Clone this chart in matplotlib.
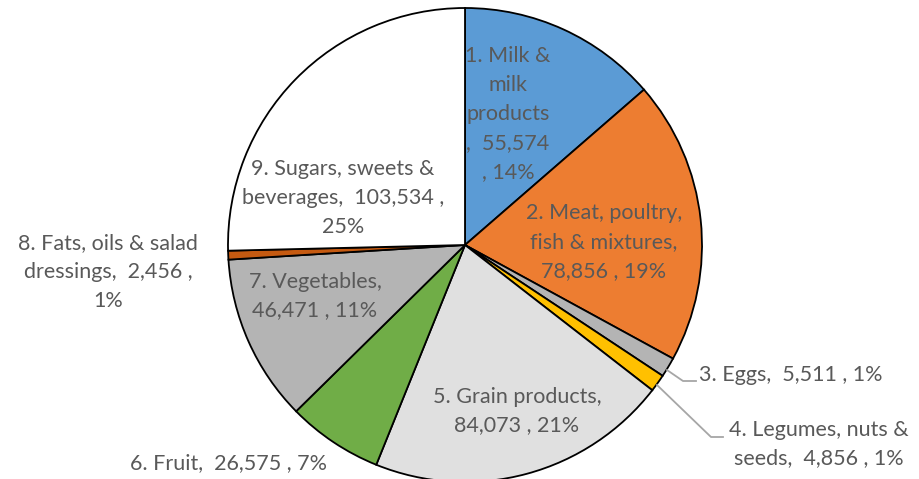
import matplotlib
matplotlib.use("Agg")
import matplotlib.pyplot as plt

categories = ["1. Milk & milk products", "2. Meat, poultry, fish & mixtures", "3. Eggs",
              "4. Legumes, nuts & seeds", "5. Grain products", "6. Fruit", "7. Vegetables",
              "8. Fats, oils & salad dressings", "9. Sugars, sweets & beverages"]
values = [55574, 78856, 5511, 4856, 84073, 26575, 46471, 2456, 103534]
percents = ["14%", "19%", "1%", "1%", "21%", "7%", "11%", "1%", "25%"]
label_texts = [
    "1. Milk &\nmilk\nproducts\n,  55,574\n, 14%",
    "2. Meat, poultry,\nfish & mixtures,\n78,856 , 19%",
    "3. Eggs,  5,511 , 1%",
    "4. Legumes, nuts &\nseeds,  4,856 , 1%",
    "5. Grain products,\n84,073 , 21%",
    "6. Fruit,  26,575 , 7%",
    "7. Vegetables,\n46,471 , 11%",
    "8. Fats, oils & salad\ndressings,  2,456 ,\n1%",
    "9. Sugars, sweets &\nbeverages,  103,534 ,\n25%",
]
colors = ["#5B9BD5", "#ED7D31", "#B4B4B4", "#FFC000", "#E0E0E0", "#70AD47", "#B4B4B4", "#C55A11", "#FFFFFF"]

W, H = 920, 479
fig = plt.figure(figsize=(W / 100, H / 100), dpi=100)
ax = fig.add_axes([0, 0, 1, 1])

cx, cy, r = 465, H - 245, 237
ax.pie(values, colors=colors, startangle=90, counterclock=False, center=(cx, cy), radius=r,
       wedgeprops=dict(edgecolor="black", linewidth=1.3), frame=True)
ax.set_xlim(0, W)
ax.set_ylim(0, H)
ax.set_aspect("equal")
ax.axis("off")

font = ["Lato", "DejaVu Sans"]
tc = "#595959"
fs = 15.5
# label positions in pixel coordinates (x, y from top), alignment
pos = [
    (508, 114, "center"),
    (604, 242, "center"),
    (699, 375, "left"),
    (819, 444, "center"),
    (517, 411, "center"),
    (229, 463, "center"),
    (315, 296, "center"),
    (108, 272, "center"),
    (343, 198, "center"),
]
for txt, (x, y, ha) in zip(label_texts, pos):
    ax.text(x, H - y, txt, ha=ha, va="center", fontsize=fs, color=tc, family=font,
            linespacing=1.55)

# leader lines
lc = "#A6A6A6"
ax.plot([667, 683, 696], [H - 370, H - 381, H - 381], color=lc, lw=1.3)
ax.plot([657, 711, 723], [H - 385, H - 437, H - 437], color=lc, lw=1.3)

fig.savefig("out.png", dpi=100)
